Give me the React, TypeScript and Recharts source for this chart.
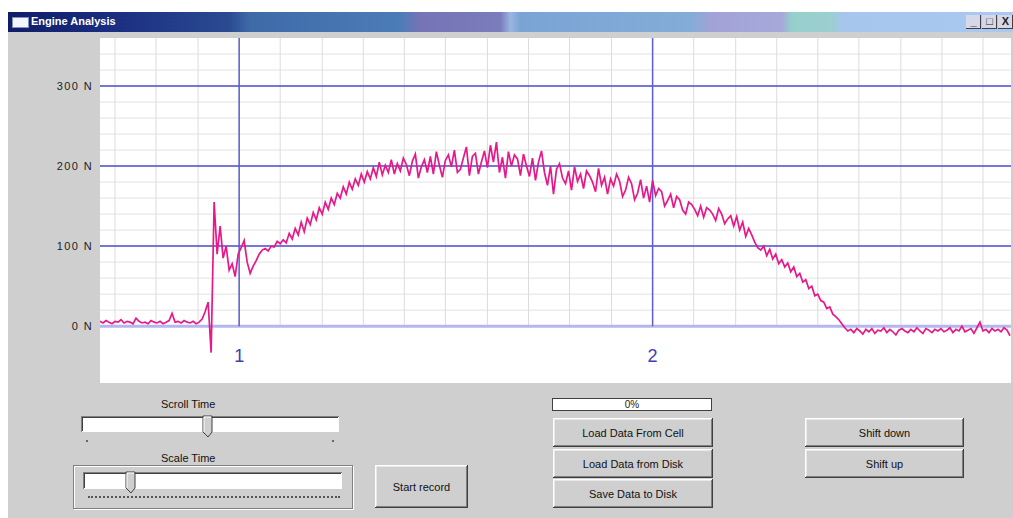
import React from 'react';
import { LineChart, Line, XAxis, YAxis, ReferenceLine, ReferenceDot } from 'recharts';

// ---- data ----
const SAMPLE_STEP = 3; // time units between samples
const force: number[] = [
  6, 4, 7, 5, 3, 6, 5, 8, 4, 6,
  5, 3, 10, 6, 4, 5, 3, 7, 5, 4,
  6, 3, 5, 7, 16, 5, 6, 4, 7, 5,
  4, 6, 3, 5, 9, 18, 30, -33, 155, 90,
  125, 85, 100, 70, 78, 62, 90, 98, 107, 80,
  66, 75, 82, 90, 95, 97, 94, 100, 99, 106,
  103, 108, 104, 116, 109, 122, 114, 130, 118, 135,
  127, 142, 133, 148, 140, 155, 146, 160, 152, 166,
  160, 174, 165, 180, 171, 184, 176, 190, 180, 193,
  184, 198, 187, 205, 189, 201, 192, 208, 190, 203,
  194, 210, 202, 188, 206, 215, 185, 199, 208, 192,
  212, 190, 218, 201, 186, 207, 214, 199, 220, 192,
  196, 210, 224, 188, 212, 216, 190, 205, 219, 198,
  226, 205, 230, 192, 211, 185, 218, 200, 214, 209,
  188, 215, 200, 187, 210, 182, 205, 219, 192, 176,
  200, 165, 196, 203, 185, 178, 194, 170, 199, 181,
  190, 172, 194, 188, 180, 168, 197, 176, 186, 165,
  184, 175, 190, 181, 162, 170, 186, 178, 158, 166,
  183, 160, 175, 155, 182, 163, 172, 168, 150, 157,
  165, 148, 162, 158, 145, 140, 155, 152, 146, 138,
  150, 136, 148, 145, 140, 132, 147, 140, 128, 134,
  138, 125, 137, 120, 130, 112, 122, 114, 105, 98,
  95, 100, 88, 96, 84, 90, 78, 83, 74, 79,
  68, 74, 62, 66, 55, 58, 47, 50, 38, 40,
  32, 30, 22, 24, 15, 12, 8, 3, -2, -6,
  -4, -8, -3, -6, -10, -4, -7, -3, -9, -5,
  -6, -2, -8, -4, -7, -11, -5, -3, -6, -8,
  -4, -7, -2, -6, -9, -3, -5, -8, -4, -6,
  -3, -7, -5, -2, -8, -4, -6, 0, -7, -5,
  -3, -9, -2, 5, -6, -4, -8, -3, -6, -4,
  -7, -2, -5, -12,
];
const forceTicks = [0, 100, 200, 300];
const minorForce = [20, 40, 60, 80, 120, 140, 160, 180, 220, 240, 260, 280, 320, 340];
const gridTimes = [15, 56, 98, 139, 180, 222, 263, 304, 345, 387, 428, 469, 511, 552, 593, 635, 676, 717, 758, 800, 841, 882];
const cursorTimes = [139, 552];
const cursorLabels = ['1', '2'];
const CURSOR_LABEL_FORCE = -36.5;
const TIME_DOMAIN: [number, number] = [0, 910];
const FORCE_DOMAIN: [number, number] = [-71, 360];

const data = force.map((f, i) => ({ t: i * SAMPLE_STEP, f }));

const GRAY = '#cfcfcf';
const UI_FONT = '"Liberation Sans", Arial, sans-serif';

const raised = 'inset -1px -1px #404040, inset 1px 1px #ffffff, inset -2px -2px #808080, inset 2px 2px #e8e8e8';
const sunken = 'inset 1px 1px #808080, inset -1px -1px #ffffff, inset 2px 2px #404040';

const Btn = ({ x, y, w, h, label }: { x: number; y: number; w: number; h: number; label: string }) => (
  <div
    style={{
      position: 'absolute', left: x, top: y, width: w, height: h, boxSizing: 'border-box',
      background: GRAY, boxShadow: raised, display: 'flex', alignItems: 'center',
      justifyContent: 'center', fontSize: 11, color: '#111', fontFamily: UI_FONT,
    }}
  >
    {label}
  </div>
);

const Thumb = ({ x, y }: { x: number; y: number }) => (
  <svg style={{ position: 'absolute', left: x, top: y }} width={12} height={24}>
    <polygon points="1,1 10,1 10,17 6,22 1,17" fill={GRAY} stroke="#404040" strokeWidth={1} />
    <polyline points="2,17 2,2 9,2" fill="none" stroke="#ffffff" strokeWidth={1} />
  </svg>
);

const Label = ({ x, y, text }: { x: number; y: number; text: string }) => (
  <div style={{ position: 'absolute', left: x, top: y, fontSize: 11, color: '#111', fontFamily: UI_FONT, whiteSpace: 'nowrap' }}>{text}</div>
);

export default function App() {
  return (
    <div style={{ position: 'absolute', left: 0, top: 0, width: 1013, height: 518, background: '#ffffff', overflow: 'hidden', fontFamily: UI_FONT }}>
      {/* window body */}
      <div style={{ position: 'absolute', left: 8, top: 12, width: 1005, height: 506, background: GRAY }} />
      {/* title bar */}
      <div
        style={{
          position: 'absolute', left: 8, top: 12, width: 1005, height: 20,
          background:
            'linear-gradient(90deg, #101c68 0%, #1a2d80 10%, #2a4a92 22%, #3e6aa8 24%, #4c7cb8 39%, #7674b6 41%, #7a7cbc 49%, #9ab6e0 50%, #7aa4d4 51%, #84acd8 68%, #a2a2d6 70%, #a6a8da 77%, #96d0cc 78%, #9ccfd0 82%, #a6c6ee 83%, #aac8f0 100%)',
        }}
      />
      <div style={{ position: 'absolute', left: 12, top: 17, width: 15, height: 9, background: '#f4f4ff', border: '1px solid #8090c0' }} />
      <div style={{ position: 'absolute', left: 31, top: 15, fontSize: 11, fontWeight: 700, color: '#ffffff', fontFamily: UI_FONT }}>Engine Analysis</div>
      {/* window buttons */}
      <div style={{ position: 'absolute', left: 966, top: 15, width: 47, height: 14, display: 'flex', gap: 1 }}>
        {['_', '\u25A1', 'X'].map((g) => (
          <div key={g} style={{ width: 15, height: 14, background: '#d4d8e8', boxShadow: 'inset -1px -1px #404040', fontSize: 11, fontWeight: 700, lineHeight: '13px', textAlign: 'center', color: '#222' }}>{g}</div>
        ))}
      </div>

      {/* plot background */}
      <div style={{ position: 'absolute', left: 100, top: 38, width: 911, height: 345, background: '#ffffff' }} />

      {/* chart */}
      <div style={{ position: 'absolute', left: 0, top: 38 }}>
        <LineChart width={1013} height={345} data={data} margin={{ top: 0, right: 2, bottom: 0, left: 0 }}>
          <XAxis type="number" dataKey="t" domain={TIME_DOMAIN} hide allowDataOverflow />
          <YAxis
            type="number"
            domain={FORCE_DOMAIN}
            ticks={forceTicks}
            allowDataOverflow
            width={100}
            axisLine={false}
            tickLine={false}
            tickSize={5}
            tickMargin={2}
            tickFormatter={(v: number) => `${v} N`}
            tick={{ fontSize: 11, fill: '#222', fontFamily: UI_FONT, letterSpacing: 1.4 }}
          />
          {minorForce.map((v) => (
            <ReferenceLine key={'h' + v} y={v} stroke="#e2e2e2" strokeWidth={1} />
          ))}
          {gridTimes.map((t) => (
            <ReferenceLine
              key={'v' + t}
              segment={[{ x: t, y: 0 }, { x: t, y: FORCE_DOMAIN[1] }]}
              stroke="#dcdcdc"
              strokeWidth={1}
            />
          ))}
          {forceTicks.filter((v) => v !== 0).map((v) => (
            <ReferenceLine key={'m' + v} y={v} stroke="#4a4ac8" strokeWidth={1.5} />
          ))}
          <ReferenceLine y={0} stroke="#b6b6ee" strokeWidth={3} />
          {cursorTimes.map((t) => (
            <ReferenceLine
              key={'c' + t}
              segment={[{ x: t, y: 0 }, { x: t, y: FORCE_DOMAIN[1] }]}
              stroke="#5c5cd6"
              strokeWidth={1.5}
            />
          ))}
          {cursorTimes.map((t, i) => (
            <ReferenceDot
              key={'cl' + t}
              x={t}
              y={CURSOR_LABEL_FORCE}
              r={0}
              fill="none"
              stroke="none"
              label={{ value: cursorLabels[i], position: 'center', fill: '#4040b4', fontSize: 18, fontFamily: UI_FONT }}
            />
          ))}
          <Line type="linear" dataKey="f" stroke="#e6198a" strokeWidth={1.7} dot={false} isAnimationActive={false} />
        </LineChart>
      </div>

      {/* Scroll Time slider */}
      <Label x={161} y={398} text="Scroll Time" />
      <div style={{ position: 'absolute', left: 81, top: 416, width: 258, height: 16, background: '#ffffff', boxShadow: sunken }} />
      <Thumb x={202} y={415} />
      <div style={{ position: 'absolute', left: 86, top: 440, width: 2, height: 2, background: '#666' }} />
      <div style={{ position: 'absolute', left: 332, top: 440, width: 2, height: 2, background: '#666' }} />

      {/* Scale Time slider */}
      <Label x={161} y={452} text="Scale Time" />
      <div style={{ position: 'absolute', left: 73, top: 465, width: 280, height: 44, boxSizing: 'border-box', border: '1px solid #808080', boxShadow: 'inset 1px 1px #ffffff, 1px 1px #ffffff' }} />
      <div style={{ position: 'absolute', left: 83, top: 472, width: 259, height: 17, background: '#ffffff', boxShadow: sunken }} />
      <div style={{ position: 'absolute', left: 88, top: 496, width: 252, height: 0, borderTop: '2px dotted #555' }} />
      <Thumb x={125} y={471} />

      <Btn x={375} y={465} w={93} h={43} label="Start record" />

      {/* progress + buttons */}
      <div style={{ position: 'absolute', left: 552, top: 398, width: 160, height: 13, boxSizing: 'border-box', background: '#ffffff', border: '1px solid #404040', fontSize: 10, lineHeight: '11px', textAlign: 'center', color: '#222' }}>0%</div>
      <Btn x={553} y={418} w={160} h={29} label="Load Data From Cell" />
      <Btn x={553} y={449} w={160} h={29} label="Load Data from Disk" />
      <Btn x={553} y={479} w={160} h={29} label="Save Data to Disk" />
      <Btn x={805} y={418} w={159} h={29} label="Shift down" />
      <Btn x={805} y={449} w={159} h={29} label="Shift up" />
    </div>
  );
}
